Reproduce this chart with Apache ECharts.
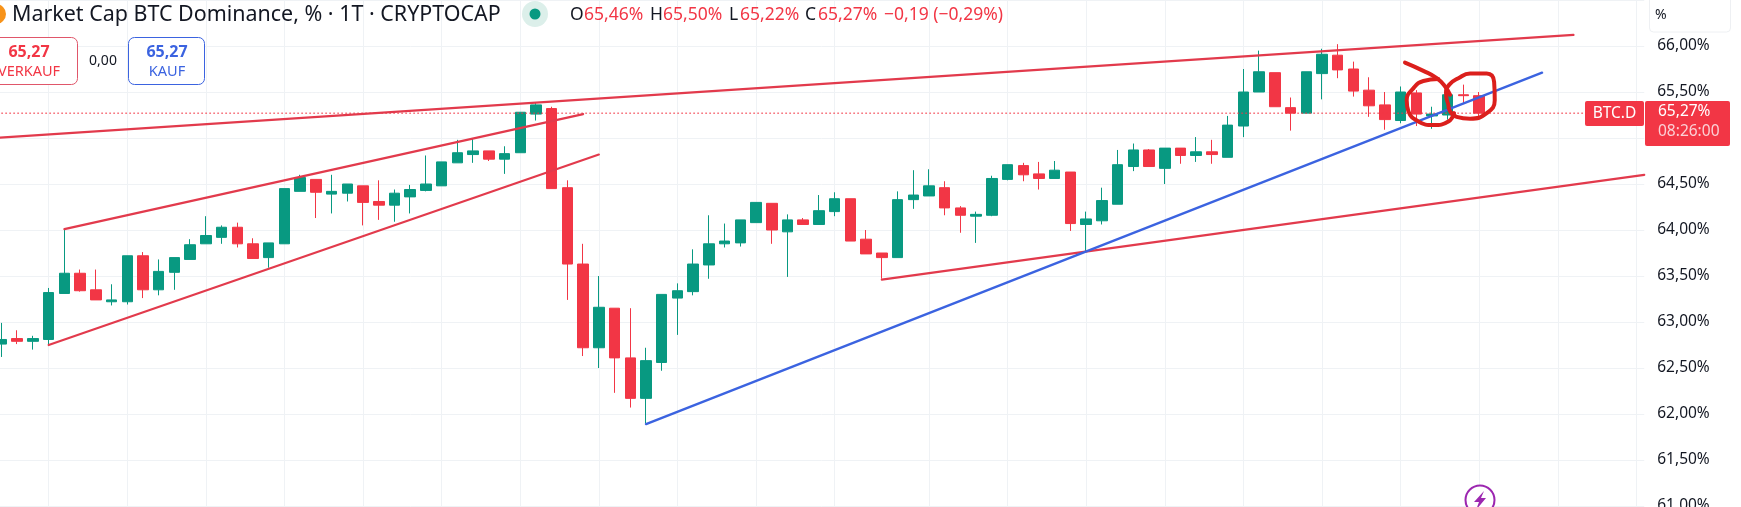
<!DOCTYPE html>
<html>
<head>
<meta charset="utf-8">
<style>
  html, body { margin: 0; padding: 0; background: #fff; }
  #main { width: 1741px; height: 507px; }
</style>
<script src="https://cdn.jsdelivr.net/npm/echarts@6/dist/echarts.min.js"></script>
</head>
<body>
<div id="main"></div>
<script>
const RED = "#f23645";
const GREEN = "#089981";
const BLUE = "#3b63e0";
const GRID = "#eff2f5";
const FONT = "Noto Sans";

const slotCount = 105;
const opens = [
  62.76,62.82,62.79,62.81,63.31,63.53,63.35,63.22,63.22,63.72,
  63.35,63.54,63.68,63.85,63.92,64.03,63.85,63.70,63.85,64.42,
  64.55,64.39,64.40,64.48,64.31,64.27,64.36,64.43,64.48,64.73,
  64.82,64.86,64.77,64.84,65.26,65.32,64.46,63.63,62.72,63.15,
  62.61,62.17,62.56,63.26,63.33,63.62,63.85,63.86,64.08,64.29,
  63.98,64.11,64.06,64.20,64.34,63.90,63.75,63.70,64.33,64.37,
  64.46,64.24,64.15,64.16,64.55,64.70,64.61,64.56,64.63,64.06,
  64.10,64.28,64.69,64.87,64.67,64.89,64.81,64.85,64.79,65.13,
  65.50,65.71,65.33,65.27,65.70,65.90,65.75,65.52,65.36,65.19,
  65.49,65.24,65.25,65.47,65.46,
];
const closes = [
  62.81,62.79,62.82,63.32,63.53,63.34,63.24,63.24,63.72,63.35,
  63.55,63.70,63.84,63.94,64.03,63.85,63.69,63.86,64.45,64.57,
  64.41,64.42,64.50,64.30,64.27,64.40,64.44,64.50,64.74,64.84,
  64.86,64.77,64.83,65.28,65.36,64.45,63.63,62.72,63.16,62.61,
  62.17,62.58,63.30,63.34,63.63,63.85,63.88,64.11,64.30,64.00,
  64.11,64.06,64.21,64.34,63.88,63.74,63.70,64.33,64.38,64.48,
  64.24,64.16,64.17,64.56,64.71,64.60,64.56,64.65,64.07,64.12,
  64.32,64.71,64.87,64.69,64.89,64.81,64.85,64.82,65.14,65.50,
  65.72,65.34,65.27,65.72,65.91,65.74,65.51,65.35,65.20,65.50,
  65.26,65.26,65.47,65.46,65.27,
];
const lows = [
  62.62,62.76,62.70,62.75,63.31,63.33,63.24,63.18,63.19,63.26,
  63.29,63.35,63.68,63.85,63.85,63.81,63.69,63.59,63.85,64.42,
  64.13,64.18,64.31,64.05,64.11,64.09,64.18,64.42,64.48,64.73,
  64.73,64.75,64.61,64.84,65.19,64.45,63.24,62.63,62.50,62.23,
  62.07,61.90,62.47,62.86,63.29,63.47,63.81,63.82,64.08,63.85,
  63.49,64.06,64.06,64.15,63.88,63.74,63.47,63.70,64.23,64.37,
  64.16,63.97,63.86,64.15,64.54,64.53,64.44,64.56,63.99,63.77,
  64.06,64.28,64.64,64.69,64.50,64.72,64.74,64.72,64.79,65.01,
  65.50,65.34,65.08,65.27,65.42,65.65,65.45,65.23,65.09,65.16,
  65.13,65.10,65.20,65.38,65.22,
];
const highs = [
  62.99,62.91,62.85,63.37,64.02,63.57,63.57,63.41,63.72,63.76,
  63.68,63.70,63.90,64.15,64.05,64.08,63.91,63.86,64.45,64.60,
  64.55,64.60,64.50,64.48,64.54,64.44,64.49,64.81,64.74,64.98,
  65.00,64.86,64.91,65.28,65.38,65.34,64.54,63.85,63.50,63.15,
  63.15,62.72,63.30,63.42,63.79,64.16,64.07,64.11,64.30,64.29,
  64.17,64.13,64.38,64.41,64.34,64.00,63.75,64.42,64.65,64.66,
  64.53,64.26,64.20,64.59,64.71,64.73,64.74,64.75,64.63,64.20,
  64.46,64.87,64.94,64.88,64.89,64.89,65.01,64.98,65.24,65.75,
  65.95,65.71,65.44,65.72,65.97,66.02,65.83,65.66,65.50,65.56,
  65.52,65.34,65.47,65.58,65.50,
];
// slots that carry a vertical grid line
const gridSlots = [3,8,13,18,23,28,33,38,43,48,53,59,64,69,74,79,84,89,94,99,104];

// drawn lines, [slot, percent]
const wedgeTop = [[-0.5, 65.0], [100, 66.12]];
const channelUpper = [[4, 64.01], [37, 65.26]];
const channelLower = [[3, 62.75], [38, 64.82]];
const supportRed = [[56, 63.46], [104.5, 64.6]];
const supportBlue = [[41, 61.89], [98, 65.71]];
const lastPrice = [[-0.5, 65.27], [100.6, 65.27]];
// hand scribbles over the last candles
const scribbleTail = [[89.28,65.82],[90.45,65.73],[91.3,65.65],[91.83,65.56],[92.15,65.47]];
const scribbleLeft = [[91.4,65.64],[90.45,65.62],[89.81,65.54],[89.39,65.41],[89.5,65.29],[90.13,65.18],[91.09,65.14],[92.04,65.18],[92.4,65.27]];
const scribbleRight = [[92.04,65.36],[91.89,65.49],[92.1,65.58],[92.68,65.65],[93.42,65.7],[94.48,65.7],[94.95,65.61],[94.99,65.41],[94.48,65.27],[93.42,65.21],[92.57,65.23],[92.15,65.29],[92.04,65.36]];

const categories = Array.from({ length: slotCount }, (_, i) => String(i));
const candles = opens.map((o, i) => [o, closes[i], lows[i], highs[i]]);

function drawnLine(name, data, color, width, type) {
  return {
    name, type: "line", xAxisIndex: 1, data, showSymbol: false, silent: true, z: 5,
    clip: false, lineStyle: { color, width, cap: "round", type: type || "solid" },
  };
}
function scribble(name, data) {
  return {
    name, type: "line", xAxisIndex: 1, data, showSymbol: false, silent: true, z: 6, smooth: 0.5,
    lineStyle: { color: "#db1f1c", width: 4, cap: "round", join: "round" },
  };
}
function label(x, y, text, size, color, extra) {
  return {
    type: "text", x, y, z: 100, silent: true,
    style: Object.assign({ text, fontFamily: FONT, fontSize: size, fill: color, align: "left", verticalAlign: "middle" }, extra || {}),
  };
}

const chart = echarts.init(document.getElementById("main"));
chart.setOption({
  animation: false,
  backgroundColor: "#fff",
  grid: { left: -6.36, right: 96.76, top: 0, bottom: 1, outerBoundsMode: "none" },
  xAxis: [
    { type: "category", data: categories, axisLine: { show: false }, axisTick: { show: false }, axisLabel: { show: false }, splitLine: { show: false } },
    { type: "value", min: -0.5, max: 104.5, show: false },
  ],
  yAxis: {
    type: "value", position: "right", min: 61, max: 66.5, interval: 0.5,
    axisLine: { show: false }, axisTick: { show: false },
    splitLine: { lineStyle: { color: GRID, width: 1 } },
    axisLabel: {
      margin: 13, color: "#131722", fontFamily: FONT, fontSize: 15.5,
      formatter: (v) => (v > 66 ? "" : v.toFixed(2).replace(".", ",") + "%"),
    },
  },
  series: [
    {
      name: "grid lines", type: "line", xAxisIndex: 1, data: [], silent: true, z: 0,
      markLine: {
        z: 0, silent: true, symbol: "none", label: { show: false }, animation: false,
        lineStyle: { color: GRID, width: 1, type: "solid" },
        data: gridSlots.map((s) => ({ xAxis: s })),
      },
    },
    drawnLine("last price", lastPrice, RED, 1, [1, 3]),
    {
      name: "BTC.D", type: "candlestick", data: candles, barWidth: 11, z: 3,
      itemStyle: { color: GREEN, color0: RED, borderColor: GREEN, borderColor0: RED, borderWidth: 1 },
    },
    drawnLine("wedge top", wedgeTop, "#e23a4c", 2.2),
    drawnLine("channel upper", channelUpper, "#e23a4c", 2.2),
    drawnLine("channel lower", channelLower, "#e23a4c", 2.2),
    drawnLine("support red", supportRed, "#e23a4c", 2.2),
    drawnLine("support blue", supportBlue, BLUE, 2.4),
    scribble("scribble tail", scribbleTail),
    scribble("scribble left", scribbleLeft),
    scribble("scribble right", scribbleRight),
  ],
  graphic: [
    // header
    { type: "circle", shape: { cx: -4, cy: 14, r: 10 }, style: { fill: "#f7931a" }, z: 100 },
    label(12, 15, "Market Cap BTC Dominance, % · 1T · CRYPTOCAP", 21.45, "#131722"),
    { type: "circle", shape: { cx: 535, cy: 14, r: 13 }, style: { fill: "#dcefea" }, z: 100 },
    { type: "circle", shape: { cx: 535, cy: 14, r: 5.5 }, style: { fill: GREEN }, z: 101 },
    label(570, 15, "O", 17.5, "#131722"),
    label(584, 15, "65,46%", 17.5, RED),
    label(650, 15, "H", 17.5, "#131722"),
    label(663, 15, "65,50%", 17.5, RED),
    label(729, 15, "L", 17.5, "#131722"),
    label(740, 15, "65,22%", 17.5, RED),
    label(805, 15, "C", 17.5, "#131722"),
    label(818, 15, "65,27%", 17.5, RED),
    label(884, 15, "−0,19 (−0,29%)", 17.5, RED),
    // order buttons
    { type: "rect", shape: { x: -10, y: 37.5, width: 87.5, height: 47, r: 6 }, style: { fill: "#fff", stroke: "#e0566a", lineWidth: 1 }, z: 100 },
    label(29, 52, "65,27", 16, RED, { align: "center", fontWeight: "bold" }),
    label(29, 72, "VERKAUF", 14.5, RED, { align: "center" }),
    label(103, 61, "0,00", 14, "#131722", { align: "center" }),
    { type: "rect", shape: { x: 128.5, y: 37.5, width: 76, height: 47, r: 6 }, style: { fill: "#fff", stroke: "#3b63e0", lineWidth: 1 }, z: 100 },
    label(167, 52, "65,27", 16, BLUE, { align: "center", fontWeight: "bold" }),
    label(167, 72, "KAUF", 14.5, BLUE, { align: "center" }),
    // price scale extras
    { type: "rect", shape: { x: 1649.5, y: -6, width: 81, height: 38, r: 4 }, style: { fill: "#fff", stroke: "#eef0f3", lineWidth: 1 }, z: 100 },
    label(1655, 15, "%", 14, "#131722"),
    { type: "rect", shape: { x: 1585, y: 101, width: 59, height: 25, r: 2 }, style: { fill: RED }, z: 100 },
    label(1614.5, 114, "BTC.D", 15.5, "#fff", { align: "center" }),
    { type: "rect", shape: { x: 1645, y: 101, width: 85, height: 45, r: 2 }, style: { fill: RED }, z: 100 },
    label(1658, 112, "65,27%", 15.5, "#fff"),
    label(1658, 132, "08:26:00", 15.5, "#fbd0d5"),
    // lightning badge
    { type: "circle", shape: { cx: 1480, cy: 500, r: 14.5 }, style: { fill: "#fff", stroke: "#9c27b0", lineWidth: 2 }, z: 100 },
    { type: "polygon", shape: { points: [[1484, 491], [1474, 502], [1479, 502], [1476, 510], [1486, 498], [1481, 498]] }, style: { fill: "#9c27b0" }, z: 101 },
  ],
});
</script>
</body>
</html>
